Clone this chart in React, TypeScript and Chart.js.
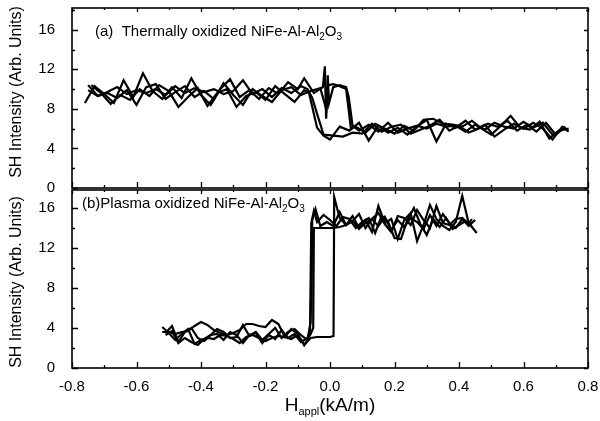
import React, { useEffect, useRef } from 'react';
import { Chart, registerables } from 'chart.js';

Chart.register(...registerables);

const FONT = '"Liberation Sans", Arial, Helvetica, sans-serif';

// ---------- axis settings ----------
const X_MIN = -0.8;
const X_MAX = 0.8;
const X_STEP = 0.2;
const Y_MIN = 0;
const Y_MAX_A = 18.2;
const Y_MAX_B = 17.8;
const Y_STEP = 4;

// ---------- texts ----------
const Y_TITLE = 'SH Intensity (Arb. Units)';
const X_TITLE_MAIN = 'H';
const X_TITLE_SUB = 'appl';
const X_TITLE_UNIT = '(kA/m)';
type Part = [string, boolean];
const LABEL_A: Part[] = [['(a)  Thermally oxidized NiFe-Al-Al', false], ['2', true], ['O', false], ['3', true]];
const LABEL_B: Part[] = [['(b)Plasma oxidized NiFe-Al-Al', false], ['2', true], ['O', false], ['3', true]];

// ---------- panel (a): thermally oxidized, [H (kA/m), SH intensity] ----------
const aForward1: [number, number][] = [
  [-0.76, 8.6], [-0.73, 10.3], [-0.70, 9.5], [-0.67, 8.6], [-0.64, 10.9], [-0.61, 9.2], [-0.58, 11.6],
  [-0.55, 9.8], [-0.52, 9.0], [-0.49, 10.2], [-0.46, 9.1], [-0.43, 11.1], [-0.40, 9.4], [-0.37, 8.4],
  [-0.34, 10.0], [-0.31, 11.0], [-0.28, 9.2], [-0.25, 9.9], [-0.22, 9.0], [-0.19, 10.1], [-0.16, 9.5],
  [-0.13, 10.7], [-0.10, 10.0], [-0.08, 11.1], [-0.05, 9.6], [-0.022, 10.2], [-0.016, 12.3], [-0.012, 7.0],
  [-0.006, 10.4], [0.01, 10.5], [0.03, 10.3], [0.05, 10.0], [0.065, 6.0], [0.08, 6.2], [0.11, 5.6],
  [0.14, 6.5], [0.17, 6.0], [0.20, 5.5], [0.23, 6.3], [0.26, 5.8], [0.29, 6.9], [0.32, 7.0], [0.35, 6.5],
  [0.38, 6.4], [0.41, 6.2], [0.44, 6.8], [0.47, 6.0], [0.50, 5.4], [0.53, 6.3], [0.56, 7.3], [0.59, 6.1],
  [0.62, 5.9], [0.65, 6.7], [0.68, 5.0], [0.71, 5.8], [0.74, 6.0],
];
const aBackward1: [number, number][] = [
  [0.74, 5.7], [0.72, 6.2], [0.69, 4.9], [0.66, 6.0], [0.63, 6.6], [0.60, 6.0], [0.57, 6.5], [0.54, 5.9],
  [0.51, 5.2], [0.48, 6.4], [0.45, 5.9], [0.42, 6.8], [0.39, 6.1], [0.36, 6.5], [0.33, 4.7], [0.30, 6.9],
  [0.27, 6.2], [0.24, 5.4], [0.21, 6.1], [0.18, 5.6], [0.15, 6.3], [0.12, 4.8], [0.09, 6.6], [0.06, 5.8],
  [0.03, 6.2], [0.0, 4.9], [-0.02, 5.3], [-0.04, 6.1], [-0.065, 9.6], [-0.08, 9.9], [-0.11, 8.7],
  [-0.14, 9.5], [-0.17, 10.3], [-0.20, 8.9], [-0.23, 9.7], [-0.26, 9.3], [-0.29, 8.2], [-0.32, 10.0],
  [-0.35, 9.6], [-0.38, 8.3], [-0.41, 10.1], [-0.44, 9.2], [-0.47, 8.2], [-0.50, 9.8], [-0.53, 10.4],
  [-0.56, 9.3], [-0.59, 10.0], [-0.62, 8.9], [-0.65, 9.4], [-0.68, 8.5], [-0.71, 9.6], [-0.74, 10.4],
];
const aForward2: [number, number][] = [
  [-0.75, 10.4], [-0.72, 9.3], [-0.69, 9.6], [-0.66, 9.1], [-0.63, 9.9], [-0.60, 8.4], [-0.57, 10.2],
  [-0.54, 10.5], [-0.51, 9.0], [-0.48, 9.7], [-0.45, 10.3], [-0.42, 9.2], [-0.39, 9.8], [-0.36, 9.0],
  [-0.33, 10.6], [-0.30, 9.4], [-0.27, 8.4], [-0.24, 10.0], [-0.21, 9.3], [-0.18, 8.7], [-0.15, 9.9],
  [-0.12, 10.2], [-0.09, 9.4], [-0.06, 9.8], [-0.03, 10.1], [-0.012, 8.0], [-0.007, 11.4], [-0.003, 8.6],
  [0.01, 10.2], [0.03, 10.4], [0.05, 10.2], [0.058, 9.2], [0.07, 6.3], [0.09, 5.8], [0.12, 6.4],
  [0.15, 5.7], [0.18, 6.6], [0.21, 5.6], [0.24, 6.0], [0.27, 6.3], [0.30, 6.0], [0.33, 6.5], [0.36, 6.2],
  [0.39, 6.3], [0.42, 5.7], [0.45, 6.4], [0.48, 5.9], [0.51, 6.6], [0.54, 6.2], [0.57, 6.0], [0.60, 6.7],
  [0.63, 6.1], [0.66, 6.6], [0.69, 5.4], [0.72, 5.9],
];
const aBackward2: [number, number][] = [
  [0.73, 6.2], [0.70, 5.4], [0.67, 6.6], [0.64, 5.7], [0.61, 6.4], [0.58, 5.8], [0.55, 6.8], [0.52, 6.2],
  [0.49, 6.5], [0.46, 6.0], [0.43, 5.6], [0.40, 6.3], [0.37, 5.8], [0.34, 6.9], [0.31, 6.3], [0.28, 5.9],
  [0.25, 5.5], [0.22, 6.4], [0.19, 6.2], [0.16, 5.7], [0.13, 6.5], [0.10, 5.5], [0.07, 5.6], [0.04, 5.2],
  [0.01, 5.3], [-0.02, 5.4], [-0.04, 7.5], [-0.055, 9.1], [-0.07, 10.0], [-0.09, 10.3], [-0.12, 9.6],
  [-0.15, 10.1], [-0.18, 9.2], [-0.21, 10.0], [-0.24, 9.5], [-0.27, 10.9], [-0.30, 9.8], [-0.33, 9.5],
  [-0.36, 10.0], [-0.39, 9.7], [-0.42, 10.1], [-0.45, 9.6], [-0.48, 10.3], [-0.51, 9.4], [-0.54, 10.0],
  [-0.57, 9.6], [-0.60, 9.9], [-0.63, 9.5], [-0.66, 10.2], [-0.69, 9.7], [-0.72, 9.3], [-0.75, 9.9],
];

// ---------- panel (b): plasma oxidized ----------
const bForward1: [number, number][] = [
  [-0.52, 4.1], [-0.50, 3.5], [-0.48, 2.8], [-0.46, 3.4], [-0.44, 3.9], [-0.42, 2.4], [-0.40, 2.8],
  [-0.38, 3.0], [-0.36, 2.9], [-0.34, 3.3], [-0.32, 3.2], [-0.30, 2.9], [-0.28, 2.5], [-0.26, 3.1],
  [-0.24, 3.3], [-0.22, 3.0], [-0.20, 2.7], [-0.18, 3.0], [-0.16, 3.2], [-0.14, 3.1], [-0.12, 2.9],
  [-0.10, 3.3], [-0.08, 2.3], [-0.06, 3.0], [-0.04, 3.1], [-0.02, 3.1], [0.0, 3.1], [0.011, 3.2],
  [0.013, 17.1], [0.03, 15.0], [0.05, 14.3], [0.07, 15.2], [0.09, 14.0], [0.11, 14.8], [0.13, 13.6],
  [0.15, 16.2], [0.17, 14.5], [0.19, 14.9], [0.21, 12.9], [0.23, 14.8], [0.25, 15.5], [0.27, 12.7],
  [0.29, 14.3], [0.31, 16.3], [0.33, 14.9], [0.35, 14.2], [0.37, 13.8], [0.39, 14.6], [0.41, 17.2],
  [0.43, 14.5], [0.455, 13.5],
];
const bBackward1: [number, number][] = [
  [0.45, 14.8], [0.43, 14.2], [0.41, 14.9], [0.39, 14.0], [0.37, 14.5], [0.35, 15.4], [0.33, 14.2],
  [0.31, 15.3], [0.29, 13.9], [0.27, 14.6], [0.25, 15.0], [0.23, 14.1], [0.21, 14.8], [0.19, 13.8],
  [0.17, 15.1], [0.15, 14.2], [0.13, 14.9], [0.11, 14.5], [0.09, 13.9], [0.07, 14.7], [0.05, 14.3],
  [0.03, 14.1], [0.01, 14.0], [-0.05, 14.0], [-0.052, 4.0], [-0.06, 3.4], [-0.08, 2.3], [-0.10, 3.4],
  [-0.12, 3.9], [-0.14, 3.1], [-0.16, 4.4], [-0.18, 4.8], [-0.20, 4.1], [-0.22, 4.2], [-0.24, 4.4],
  [-0.26, 4.4], [-0.28, 3.8], [-0.30, 3.5], [-0.32, 3.3], [-0.34, 3.5], [-0.36, 3.8], [-0.38, 4.3],
  [-0.40, 4.6], [-0.42, 4.2], [-0.44, 3.7], [-0.46, 3.6], [-0.48, 3.4], [-0.50, 3.6], [-0.52, 3.6],
];
const bForward2: [number, number][] = [
  [-0.51, 3.5], [-0.49, 4.2], [-0.47, 2.6], [-0.45, 3.6], [-0.43, 4.0], [-0.41, 3.0], [-0.39, 2.7],
  [-0.37, 3.3], [-0.35, 3.9], [-0.33, 3.6], [-0.31, 3.0], [-0.29, 3.1], [-0.27, 4.3], [-0.25, 3.2],
  [-0.23, 3.6], [-0.21, 2.8], [-0.19, 3.4], [-0.17, 4.0], [-0.15, 3.0], [-0.13, 3.6], [-0.11, 3.9],
  [-0.09, 3.3], [-0.07, 2.8], [-0.06, 4.6], [-0.055, 14.8], [-0.045, 15.9], [-0.03, 14.2], [-0.01, 14.6],
  [0.01, 14.2], [0.03, 15.6], [0.05, 14.3], [0.07, 14.7], [0.09, 15.4], [0.11, 14.0], [0.13, 14.9],
  [0.15, 15.5], [0.17, 14.4], [0.19, 13.6], [0.21, 15.2], [0.23, 15.0], [0.25, 14.3], [0.27, 15.8],
  [0.29, 14.8], [0.31, 14.0], [0.33, 16.2], [0.35, 14.5], [0.37, 14.3], [0.39, 14.9], [0.41, 15.0],
  [0.43, 14.4], [0.44, 14.9],
];
const bBackward2: [number, number][] = [
  [0.44, 14.2], [0.42, 14.7], [0.40, 14.3], [0.38, 13.9], [0.36, 15.0], [0.34, 14.1], [0.32, 14.9],
  [0.30, 13.3], [0.28, 14.4], [0.26, 16.0], [0.24, 14.8], [0.22, 12.9], [0.20, 13.0], [0.18, 14.6],
  [0.16, 15.2], [0.14, 13.5], [0.12, 15.0], [0.10, 14.6], [0.08, 14.0], [0.06, 14.9], [0.04, 15.1],
  [0.02, 14.2], [0.0, 14.8], [-0.02, 15.3], [-0.04, 14.6], [-0.05, 15.7], [-0.058, 14.5], [-0.062, 3.5],
  [-0.07, 3.0], [-0.09, 2.6], [-0.11, 3.4], [-0.13, 3.0], [-0.15, 3.8], [-0.17, 2.9], [-0.19, 3.3],
  [-0.21, 2.5], [-0.23, 3.5], [-0.25, 3.3], [-0.27, 2.5], [-0.29, 3.3], [-0.31, 3.6], [-0.33, 2.8],
  [-0.35, 3.4], [-0.37, 3.3], [-0.39, 2.9], [-0.41, 2.3], [-0.43, 2.6], [-0.45, 3.0], [-0.47, 2.5],
  [-0.49, 3.7], [-0.51, 3.3],
];

const SWEEPS_A = [aForward1, aBackward1, aForward2, aBackward2];
const SWEEPS_B = [bForward1, bBackward1, bForward2, bBackward2];

// ---------- helpers ----------
function drawParts(ctx: CanvasRenderingContext2D, x: number, y: number, parts: Part[], size: number, subSize: number, drop: number) {
  let cx = x;
  ctx.textAlign = 'left';
  ctx.textBaseline = 'alphabetic';
  for (const [t, sub] of parts) {
    ctx.font = `${sub ? subSize : size}px ${FONT}`;
    ctx.fillText(t, cx, sub ? y + drop : y);
    cx += ctx.measureText(t).width;
  }
}

type DecorCfg = {
  label: Part[];
  labelX: number;
  labelY: number;
  titleY: number;
  xTitleY?: number;
};

function makeDecor(cfg: DecorCfg) {
  return {
    id: 'decor',
    afterDraw(chart: any) {
      const { ctx, chartArea: a } = chart;
      const xs = chart.scales.x;
      const ys = chart.scales.y;
      ctx.save();
      ctx.strokeStyle = '#000';
      ctx.lineWidth = 1.6;
      ctx.strokeRect(a.left, a.top, a.right - a.left, a.bottom - a.top);
      ctx.lineWidth = 1.3;
      ctx.beginPath();
      for (let i = -8; i <= 8; i++) {
        const px = Math.round(xs.getPixelForValue(i / 10)) + 0.5;
        const major = i % 2 === 0;
        ctx.moveTo(px, a.bottom);
        ctx.lineTo(px, a.bottom - (major ? 6 : 3));
        ctx.moveTo(px, a.top);
        ctx.lineTo(px, a.top + (major ? 4 : 2));
      }
      for (let i = 0; i * 2 <= ys.max; i++) {
        const py = Math.round(ys.getPixelForValue(i * 2)) + 0.5;
        const major = i % 2 === 0;
        ctx.moveTo(a.left, py);
        ctx.lineTo(a.left + (major ? 6 : 3), py);
        ctx.moveTo(a.right, py);
        ctx.lineTo(a.right - (major ? 4 : 2), py);
      }
      ctx.stroke();

      ctx.fillStyle = '#000';
      drawParts(ctx, cfg.labelX, cfg.labelY, cfg.label, 15, 10, 4);

      ctx.save();
      ctx.translate(17, cfg.titleY);
      ctx.rotate(-Math.PI / 2);
      ctx.font = `16px ${FONT}`;
      ctx.textAlign = 'center';
      ctx.textBaseline = 'middle';
      ctx.fillText(Y_TITLE, 0, 0);
      ctx.restore();

      if (cfg.xTitleY !== undefined) {
        const parts: Part[] = [[X_TITLE_MAIN, false], [X_TITLE_SUB, true], [X_TITLE_UNIT, false]];
        ctx.font = `19px ${FONT}`;
        const w1 = ctx.measureText(X_TITLE_MAIN).width + ctx.measureText(X_TITLE_UNIT).width;
        ctx.font = `11px ${FONT}`;
        const w2 = ctx.measureText(X_TITLE_SUB).width;
        const cx = (a.left + a.right) / 2 - (w1 + w2) / 2;
        drawParts(ctx, cx, cfg.xTitleY, parts, 19, 11, 4);
      }
      ctx.restore();
    },
  };
}

function buildConfig(sweeps: [number, number][][], yMax: number, showX: boolean, padding: any, xHeight: number, decor: DecorCfg): any {
  return {
    type: 'line',
    data: {
      datasets: sweeps.map((pts) => ({
        data: pts.map(([x, y]) => ({ x, y })),
        borderColor: '#000',
        borderWidth: 2.2,
        pointRadius: 0,
        tension: 0,
        fill: false,
      })),
    },
    options: {
      responsive: false,
      animation: false,
      devicePixelRatio: 1,
      layout: { padding, autoPadding: false },
      plugins: { legend: { display: false }, tooltip: { enabled: false } },
      scales: {
        x: {
          type: 'linear',
          min: X_MIN,
          max: X_MAX,
          display: showX,
          grid: { display: false },
          border: { display: false },
          ticks: {
            stepSize: X_STEP,
            autoSkip: false,
            maxRotation: 0,
            padding: 2,
            color: '#000',
            font: { family: FONT, size: 15 },
            callback: (v: number) => Number(v).toFixed(1),
          },
          afterFit: (s: any) => {
            s.height = xHeight;
            s.paddingLeft = 0;
            s.paddingRight = 0;
            s.paddingTop = 0;
            s.paddingBottom = 0;
          },
        },
        y: {
          type: 'linear',
          min: Y_MIN,
          max: yMax,
          grid: { display: false },
          border: { display: false },
          ticks: {
            stepSize: Y_STEP,
            includeBounds: false,
            padding: 9,
            color: '#000',
            font: { family: FONT, size: 15 },
            callback: (v: number) => String(Math.round(v)),
          },
          afterFit: (s: any) => {
            s.width = 72;
            s.paddingLeft = 0;
            s.paddingRight = 0;
            s.paddingTop = 0;
            s.paddingBottom = 0;
          },
        },
      },
    },
    plugins: [makeDecor(decor)],
  };
}

export default function App() {
  const refA = useRef<HTMLCanvasElement>(null);
  const refB = useRef<HTMLCanvasElement>(null);

  useEffect(() => {
    const chartA = new Chart(
      refA.current as HTMLCanvasElement,
      buildConfig(SWEEPS_A, Y_MAX_A, false, { top: 8, right: 12, bottom: 12, left: 0 }, 0, {
        label: LABEL_A,
        labelX: 95,
        labelY: 36,
        titleY: 92,
      })
    );
    const chartB = new Chart(
      refB.current as HTMLCanvasElement,
      buildConfig(SWEEPS_B, Y_MAX_B, true, { top: 1, right: 12, bottom: 0, left: 0 }, 53, {
        label: LABEL_B,
        labelX: 82,
        labelY: 19,
        titleY: 93,
        xTitleY: 222,
      })
    );
    return () => {
      chartA.destroy();
      chartB.destroy();
    };
  }, []);

  return (
    <div style={{ position: 'absolute', left: 0, top: 0, width: 600, height: 421, background: '#fff' }}>
      <canvas ref={refA} width={600} height={200} style={{ position: 'absolute', left: 0, top: 0, width: 600, height: 200 }} />
      <canvas ref={refB} width={600} height={232} style={{ position: 'absolute', left: 0, top: 189, width: 600, height: 232 }} />
    </div>
  );
}
